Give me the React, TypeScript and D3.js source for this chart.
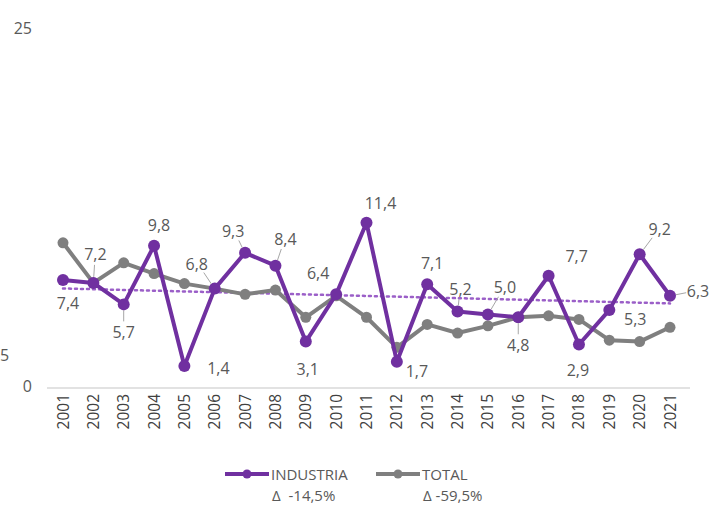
import React from 'react';
import { scalePoint, scaleLinear, line } from 'd3';

const years = ['2001','2002','2003','2004','2005','2006','2007','2008','2009','2010','2011','2012','2013','2014','2015','2016','2017','2018','2019','2020','2021'];
const industria = [7.4, 7.2, 5.7, 9.8, 1.4, 6.8, 9.3, 8.4, 3.1, 6.4, 11.4, 1.7, 7.1, 5.2, 5.0, 4.8, 7.7, 2.9, 5.3, 9.2, 6.3];
const total = [10.0, 7.2, 8.6, 7.85, 7.15, 6.8, 6.4, 6.7, 4.8, 6.3, 4.8, 2.7, 4.3, 3.7, 4.2, 4.8, 4.9, 4.65, 3.2, 3.1, 4.1];
const yTicks = [0, 25];
const legendNames = ['INDUSTRIA', 'TOTAL'];
const legendDeltas = ['Δ  -14,5%', 'Δ -59,5%'];

// label placement (px offset from point), leader line flag
const labelOffsets: [number, number, boolean][] = [
  [5, 23, false], [2, -29, true], [0, 28, true], [5, -21, false], [34, 2, false],
  [-18, -25, true], [-12, -22, true], [10, -27, true], [2, 27, false], [-18, -21, false],
  [14, -20, false], [20, 9, false], [5, -21, false], [3, -23, true], [17, -27, true],
  [0, 28, true], [28, -20, false], [-1, 26, false], [26, 9, false], [20, -25, true], [28, -5, true],
];

const PURPLE = '#7030A0';
const GRAY = '#7F7F7F';
const TXT = '#595959';
const FONT = 'Open Sans, Noto Sans, sans-serif';

export default function App() {
  const width = 712;
  const height = 505;
  const x = scalePoint<string>().domain(years).range([63, 670]);
  const y = scaleLinear().domain([0, 25]).range([386, 28]);

  const pathGen = line<number>().x((d, i) => x(years[i])!).y(d => y(d));

  // linear trend of industria
  const n = industria.length;
  const mx = (n - 1) / 2;
  const my = industria.reduce((a, b) => a + b, 0) / n;
  let sxy = 0, sxx = 0;
  industria.forEach((v, i) => { sxy += (i - mx) * (v - my); sxx += (i - mx) * (i - mx); });
  const slope = sxy / sxx;
  const trend = [my - slope * mx, my + slope * (n - 1 - mx)];

  const fmt = (v: number) => v.toFixed(1).replace('.', ',');

  return (
    <svg width={width} height={height} style={{ position: 'absolute', left: 0, top: 0, fontFamily: FONT }}>
      <rect width={width} height={height} fill="#fff" />
      {yTicks.map(t => (
        <text key={t} x={32} y={y(t)} textAnchor="end" dominantBaseline="central" fontSize={16} fill={TXT}>{t}</text>
      ))}
      <text x={0} y={355} dominantBaseline="central" fontSize={16} fill={TXT}>5</text>
      <line x1={47} x2={690} y1={y(0) + 2} y2={y(0) + 2} stroke="#D9D9D9" strokeWidth={1.5} />
      {years.map(yr => (
        <text key={yr} transform={`translate(${x(yr)! + 5.5},${394}) rotate(-90)`} textAnchor="end" fontSize={15.5} fill="#404040">{yr}</text>
      ))}
      <line x1={x(years[0])} x2={x(years[n - 1])} y1={y(trend[0])} y2={y(trend[1])} stroke="#9B5FC8" strokeWidth={2.5} strokeDasharray="2 4" strokeLinecap="round" />
      <path d={pathGen(total)!} fill="none" stroke={GRAY} strokeWidth={4} strokeLinejoin="round" />
      {total.map((v, i) => (
        <circle key={'t' + i} cx={x(years[i])} cy={y(v)} r={5.5} fill={GRAY} />
      ))}
      <path d={pathGen(industria)!} fill="none" stroke={PURPLE} strokeWidth={4} strokeLinejoin="round" />
      {industria.map((v, i) => (
        <circle key={'i' + i} cx={x(years[i])} cy={y(v)} r={6} fill={PURPLE} />
      ))}
      {industria.map((v, i) => {
        const [dx, dy, leader] = labelOffsets[i];
        const px = x(years[i])!;
        const py = y(v);
        const len = Math.hypot(dx, dy);
        return (
          <g key={'l' + i}>
            {leader && (
              <line x1={px + dx * 6 / len} y1={py + dy * 6 / len} x2={px + dx * (len - 12) / len} y2={py + dy * (len - 11) / len} stroke="#A6A6A6" strokeWidth={1} />
            )}
            <text x={px + dx} y={py + dy} textAnchor="middle" dominantBaseline="central" fontSize={16} fill={TXT}>{fmt(v)}</text>
          </g>
        );
      })}
      {legendNames.map((name, k) => {
        const lx = k === 0 ? 225 : 376;
        const col = k === 0 ? PURPLE : GRAY;
        return (
          <g key={name}>
            <line x1={lx} x2={lx + 44} y1={474} y2={474} stroke={col} strokeWidth={4} />
            <circle cx={lx + 22} cy={474} r={4.5} fill={col} />
            <text x={lx + 46} y={474} dominantBaseline="central" fontSize={15} fill={TXT}>{name}</text>
            <text x={lx + 47} y={495} dominantBaseline="central" fontSize={15} fill={TXT} style={{ whiteSpace: 'pre' }}>{legendDeltas[k]}</text>
          </g>
        );
      })}
    </svg>
  );
}
